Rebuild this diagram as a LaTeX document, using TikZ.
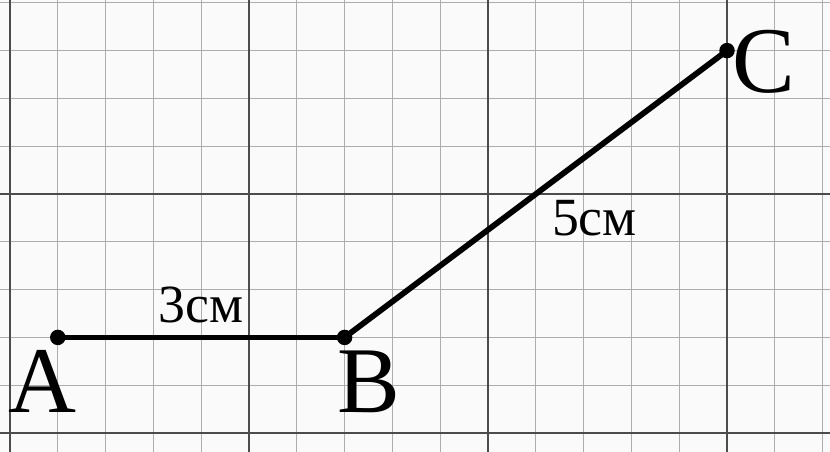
\documentclass[tikz,border=0pt]{standalone}
\usepackage{fontspec}
\setmainfont{Liberation Serif}
\usetikzlibrary{positioning}

\begin{document}
\begin{tikzpicture}[x=0.5cm, y=0.5cm, thick,
        minor/.style={draw=black!32, line width=0.35pt},
        major/.style={draw=black!70, line width=0.6pt},
        pt/.style={circle, fill, inner sep=0pt, minimum size=4.6pt},
        lbl/.style={font=\fontsize{28}{30}\selectfont, anchor=base},
        len/.style={font=\fontsize{16}{18}\selectfont, inner sep=1pt}]
        \fill[black!2] (0,0) rectangle (17.364,9.456);
        \useasboundingbox (0,0) rectangle (17.364,9.456);

        % grid of half-centimetre cells
        \foreach \i in {0,...,17} \draw[minor] (\i+0.209,0) -- (\i+0.209,9.456);
        \foreach \j in {0,...,9} \draw[minor] (0,\j+0.397) -- (17.364,\j+0.397);
        \foreach \i in {0,5,10,15} \draw[major] (\i+0.209,0) -- (\i+0.209,9.456);
        \foreach \j in {0,5} \draw[major] (0,\j+0.397) -- (17.364,\j+0.397);

        \node[pt] (A) at (1.209,2.397) {};
        \node[pt] (B) at (7.209,2.397) {};
        \node[pt] (C) at (15.209,8.397) {};

        \draw[line width=1.7pt] (A.center) -- node[len, midway, above, inner sep=3.3pt] (ab) {3см} (B.center);
        \draw[line width=1.7pt] (B.center) -- node[len, midway, anchor=north west, xshift=3pt] (bc) {5см} (C.center);

        \node[lbl] (la) at (0.879,0.816) {A};
        \node[lbl] (lb) at (7.72,0.816) {B};
        \node[lbl] (lc) at (15.98,7.53) {C};
    \end{tikzpicture}
\end{document}
